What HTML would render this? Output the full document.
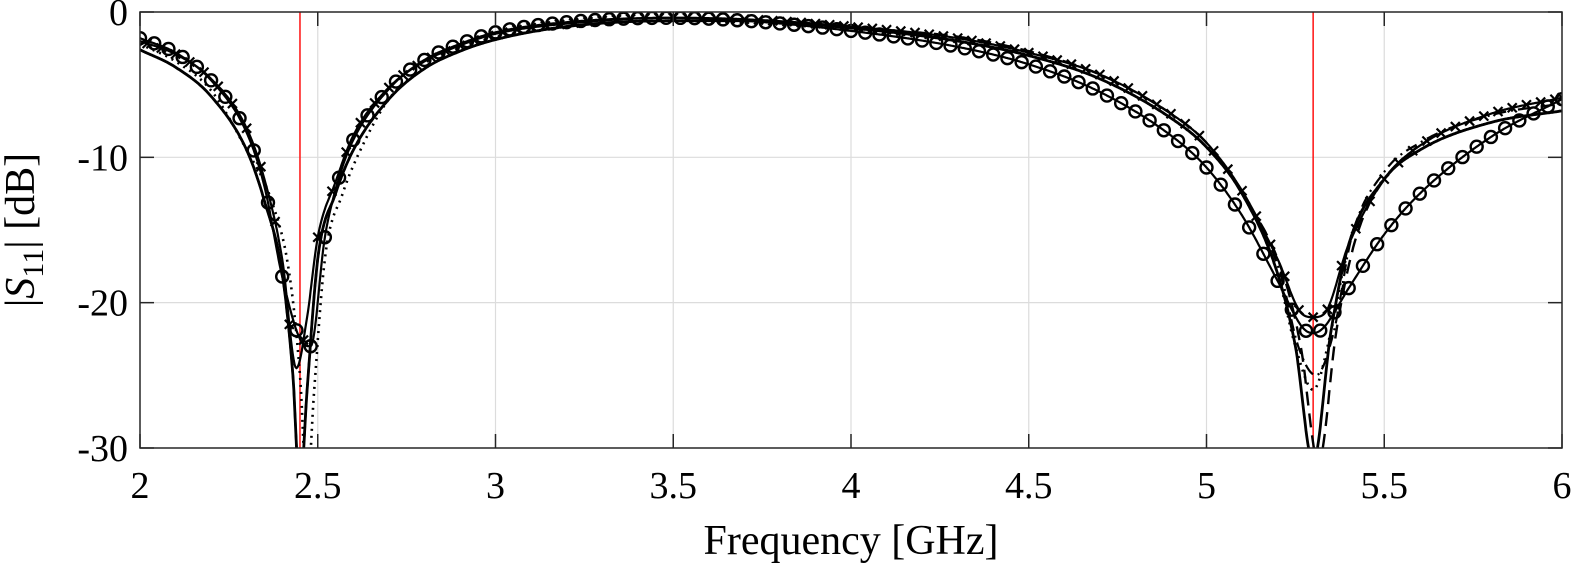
<!DOCTYPE html>
<html><head><meta charset="utf-8">
<style>
html,body{margin:0;padding:0;background:#fff;}
svg{display:block;}
text{font-family:"Liberation Serif",serif;fill:#000;}
</style></head>
<body>
<svg id="s" width="1588" height="568" viewBox="0 0 1588 568" xmlns="http://www.w3.org/2000/svg">
<defs><clipPath id="c"><rect x="140" y="12" width="1422" height="436"/></clipPath></defs>
<g id="grid" stroke="#dcdcdc" stroke-width="1.2"></g>
<g id="red" stroke="#ff2020" stroke-width="1.6"></g>
<g id="curves" clip-path="url(#c)" fill="none" stroke="#000" stroke-width="2.6"></g>
<rect x="140" y="12" width="1422" height="436" fill="none" stroke="#262626" stroke-width="1.5"/>
<g id="ticks" stroke="#262626" stroke-width="1.5"></g>
<g id="lab" font-size="38"></g>
<text x="851" y="554" font-size="42" text-anchor="middle">Frequency [GHz]</text>
<text transform="translate(34,230) rotate(-90)" font-size="42" text-anchor="middle">|<tspan font-style="italic">S</tspan><tspan font-size="30" dy="9">11</tspan><tspan dy="-9">| [dB]</tspan></text>
</svg>
<script>
var X=function(f){return 140+(f-2)*355.5;},Y=function(d){return 12-d*14.533;};
var NS="http://www.w3.org/2000/svg";
function el(p,t,a){var e=document.createElementNS(NS,t);for(var k in a)e.setAttribute(k,a[k]);document.getElementById(p).appendChild(e);return e;}
var xt=[2,2.5,3,3.5,4,4.5,5,5.5,6],yt=[0,-10,-20,-30];
xt.forEach(function(f){var x=X(f);
 if(f>2&&f<6)el("grid","line",{x1:x,y1:12,x2:x,y2:448});
 el("ticks","line",{x1:x,y1:448,x2:x,y2:434});el("ticks","line",{x1:x,y1:12,x2:x,y2:26});
 var t=el("lab","text",{x:x,y:498,"text-anchor":"middle"});t.textContent=String(f);});
yt.forEach(function(d){var y=Y(d);
 if(d<0&&d>-30)el("grid","line",{x1:140,y1:y,x2:1562,y2:y});
 el("ticks","line",{x1:140,y1:y,x2:154,y2:y});el("ticks","line",{x1:1562,y1:y,x2:1548,y2:y});
 var t=el("lab","text",{x:128,y:y+13,"text-anchor":"end"});t.textContent=String(d);});
[2.45,5.3].forEach(function(f){el("red","line",{x1:X(f),y1:12,x2:X(f),y2:448});});

function mono(P){var n=P.length,xs=P.map(function(p){return p[0]}),ys=P.map(function(p){return p[1]});
 var d=[],m=[];for(var i=0;i<n-1;i++)d.push((ys[i+1]-ys[i])/(xs[i+1]-xs[i]));
 m[0]=d[0];m[n-1]=d[n-2];for(i=1;i<n-1;i++){m[i]=(d[i-1]*d[i]<=0)?0:(d[i-1]+d[i])/2;}
 for(i=0;i<n-1;i++){if(d[i]==0){m[i]=m[i+1]=0;continue;}var a=m[i]/d[i],b=m[i+1]/d[i],s=a*a+b*b;if(s>9){var t=3/Math.sqrt(s);m[i]=t*a*d[i];m[i+1]=t*b*d[i];}}
 return function(x){var i=0;while(i<n-2&&x>xs[i+1])i++;var h=xs[i+1]-xs[i],t=(x-xs[i])/h,t2=t*t,t3=t2*t;
  return (2*t3-3*t2+1)*ys[i]+(t3-2*t2+t)*h*m[i]+(-2*t3+3*t2)*ys[i+1]+(t3-t2)*h*m[i+1];};}
function path(fn,dash,w){var s="";for(var f=2;f<=6.0001;f+=0.0025){s+=(s?"L":"M")+X(f).toFixed(1)+","+Y(fn(f)).toFixed(1);}
 var a={d:s};if(dash)a["stroke-dasharray"]=dash;if(w)a["stroke-width"]=w;el("curves","path",a);}

var A=[[2,-2.6],[2.1,-3.8],[2.2,-5.8],[2.3,-9.5],[2.35,-13],[2.4,-18],[2.43,-25],[2.45,-33],[2.47,-26],[2.5,-17],[2.55,-12.5],[2.6,-9.5],[2.7,-6],[2.8,-3.9],[2.9,-2.7],[3,-1.9],[3.2,-1.0],[3.5,-0.6],[3.7,-0.6],[4,-1.1],[4.3,-2.0],[4.5,-3.0],[4.7,-4.6],[4.9,-7.3],[5,-9.3],[5.1,-12.5],[5.2,-18],[5.25,-23],[5.3,-31],[5.35,-22],[5.4,-16],[5.5,-11.5],[5.6,-9.5],[5.8,-7.6],[6,-6.8]];
function shift(P,sh,fmin,fmax,dmin){return P.map(function(p){var f=p[0],d=p[1];
 if(f>=fmin&&f<=fmax){f+=sh;if(dmin!==undefined&&d<dmin)d=dmin;}return [f,d];});}
var B=shift(A,0.015,5.15,5.45).map(function(p){return [p[0],p[0]>4.2&&p[0]<5.1?p[1]+0.3:p[1]]});
var C=shift(shift(A,0.02,2.35,2.6),0,5.25,5.35,-26).map(function(p){return [p[0],p[0]<2.3?p[1]+0.4:p[1]]});
var D=shift(A,0.008,5.2,5.45,-25).map(function(p){return [p[0],p[0]>5.4?p[1]+0.5:p[1]]});
var E=[[2,-2.0],[2.1,-2.9],[2.2,-4.6],[2.3,-8],[2.35,-11.5],[2.4,-17],[2.44,-24.5],[2.47,-21],[2.5,-15.5],[2.55,-11.7],[2.6,-8.5],[2.7,-5.2],[2.8,-3.4],[2.9,-2.3],[3,-1.5],[3.2,-0.8],[3.5,-0.4],[3.7,-0.5],[4,-1.0],[4.3,-1.8],[4.5,-2.8],[4.7,-4.3],[4.9,-7],[5,-9],[5.1,-12.3],[5.2,-17],[5.27,-20.8],[5.3,-21],[5.33,-20.8],[5.4,-16],[5.5,-11.5],[5.6,-9.2],[5.8,-7],[6,-5.9]];
var F=[[2,-1.8],[2.1,-2.8],[2.2,-4.7],[2.3,-8.3],[2.35,-12],[2.4,-18.2],[2.45,-22.5],[2.48,-23],[2.52,-15.5],[2.56,-11.4],[2.6,-8.8],[2.7,-5.3],[2.8,-3.3],[2.9,-2.2],[3,-1.4],[3.2,-0.7],[3.5,-0.4],[3.7,-0.6],[4,-1.3],[4.3,-2.4],[4.5,-3.6],[4.7,-5.5],[4.9,-8.5],[5,-10.7],[5.1,-14],[5.2,-18.5],[5.27,-21.7],[5.3,-22.1],[5.33,-21.7],[5.4,-19],[5.5,-15.3],[5.6,-12.5],[5.8,-8.6],[6,-6.0]];
var fa=mono(A),fb=mono(B),fc=mono(C),fd=mono(D),fe=mono(E),ff=mono(F);
path(fb,"14,8",2.4);path(fc,"2,5",2.6);path(fd,"12,5,2,5",2.2);path(fe,null,2.2);path(ff,null,2.2);path(fa,null,2.8);
for(var f=2;f<=6.001;f+=0.04){
 var x=X(f),y=Y(ff(f));el("curves","circle",{cx:x,cy:y,r:6,"stroke-width":2.4});
 var x2=X(f+0.02>6?6:f+0.02),y2=Y(fe(f+0.02>6?6:f+0.02)),r=4.5;
 el("curves","path",{d:"M"+(x2-r)+","+(y2-r)+"L"+(x2+r)+","+(y2+r)+"M"+(x2-r)+","+(y2+r)+"L"+(x2+r)+","+(y2-r),"stroke-width":2.2});
}
</script>
</body></html>
